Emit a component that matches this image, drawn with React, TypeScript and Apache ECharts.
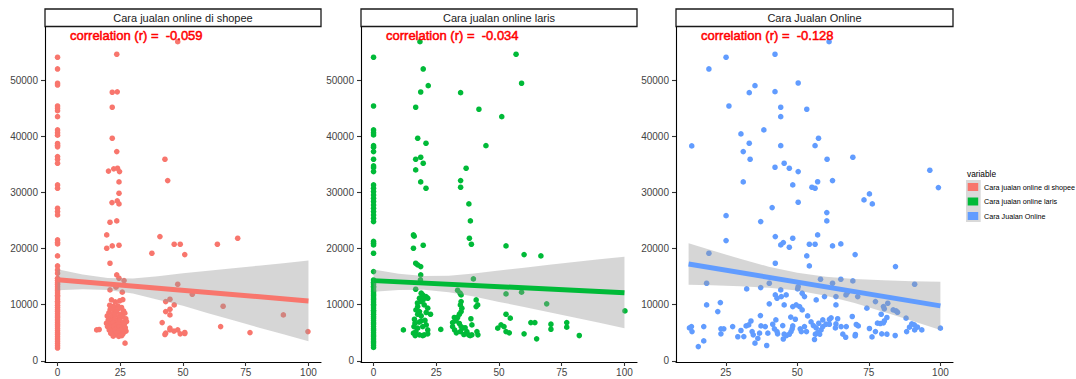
import React, { useEffect, useRef } from 'react';
import * as echarts from 'echarts';

const PANEL_TITLES = ['Cara jualan online di shopee', 'Cara jualan online laris', 'Cara Jualan Online'];
const CORRELATIONS = ['-0.059', '-0.034', '-0.128'];
const COLORS = ['#F8766D', '#00BA38', '#619CFF'];
const LEGEND_TITLE = 'variable';
const Y_TICKS = [0, 10000, 20000, 30000, 40000, 50000];
const X_TICKS_FULL = [0, 25, 50, 75, 100];
const X_TICKS_ONLINE = [25, 50, 75, 100];

// ---- Panel 1: Cara jualan online di shopee ----
const SHOPEE_ZERO_Y = [
  54060, 51980, 49430, 49130, 45390, 44980, 44550, 43490, 41120, 40640, 40190, 38710, 38410, 38110,
  36370, 35900, 35190, 31330, 30740, 27180, 26580, 25990, 21540, 21060, 20830, 18690, 16910, 16200,
  15600, 14700, 14300, 13900, 13600, 13200, 12800, 12500, 12100, 11700, 11400, 11000, 10600, 10300,
  9900, 9500, 9100, 8800, 8400, 8000, 7700, 7300, 6900, 6500, 6200, 5800, 5400, 5000, 4700, 4300,
  3900, 3500, 3100, 2700, 2300,
];
const SHOPEE_POINTS: number[][] = [
  [23.6, 54590], [21.8, 47830], [23.8, 47900], [21.8, 45160], [21.8, 39640], [23.6, 37260],
  [20.3, 33800], [22.4, 34200], [23.9, 34300], [24.7, 33700], [24.5, 31860], [24.5, 29850],
  [21.7, 28180], [23.8, 28480], [24.5, 27950], [20.9, 24690], [23.6, 24920], [19.6, 22430],
  [19.6, 20060], [21.8, 20470], [24.5, 20590], [20.9, 17390], [23.6, 15310], [24.5, 14720],
  [26.5, 14290], [20.9, 12640], [23.3, 13120], [25.8, 12230],
  [21.5, 10860], [23.0, 10500], [24.8, 10700], [26.0, 10900], [20.8, 9900], [22.3, 9700],
  [24.0, 9800], [25.5, 9500], [21.0, 9200], [22.8, 9000], [24.4, 9300], [26.3, 8900],
  [20.5, 8600], [22.0, 8400], [23.5, 8700], [25.0, 8300], [26.8, 8500], [19.8, 8000],
  [21.6, 7800], [23.0, 8100], [24.6, 7700], [25.8, 7900], [27.2, 7500], [20.2, 7300],
  [21.8, 7100], [22.9, 7400], [23.9, 7000], [24.9, 7200], [26.2, 6900], [27.5, 7000],
  [19.5, 6700], [20.9, 6500], [22.2, 6800], [23.3, 6400], [24.3, 6600], [25.4, 6300],
  [26.6, 6500], [19.9, 6100], [21.3, 5900], [22.5, 6200], [23.6, 5800], [24.7, 6000],
  [25.9, 5700], [27.0, 5900], [20.6, 5500], [21.9, 5300], [23.1, 5600], [24.1, 5200],
  [25.2, 5400], [26.4, 5100], [27.3, 5300], [21.2, 4900], [22.7, 4700], [23.8, 5000],
  [24.9, 4600], [26.0, 4800], [22.2, 4400], [24.4, 4350], [25.6, 4500], [26.9, 3150],
  [15.6, 5520], [16.6, 5580],
  [37.6, 19170], [40.8, 22130], [46.5, 20770], [48.9, 20770], [50.7, 18930], [63.7, 20770],
  [71.8, 21840], [42.8, 35900], [43.9, 32100], [47.9, 56840], [47.9, 13650], [53.7, 11870],
  [43.1, 10560], [44.8, 10980], [46.5, 9970], [43.1, 8780], [44.8, 9200], [44.8, 8190],
  [41.7, 6820], [44.8, 5820], [44.8, 5520], [43.1, 4930], [47.9, 5520], [48.9, 4810],
  [50.7, 4870], [50.7, 5050], [66.0, 9730], [65.0, 6110], [76.7, 5040], [90.0, 8190],
  [99.8, 5220], [42.8, 4690], [46.4, 5300],
];
const SHOPEE_BAND_X = [0, 10, 20, 30, 40, 50, 60, 70, 80, 90, 100];
const SHOPEE_BAND_HIGH = [16320, 15370, 14760, 14650, 15080, 15600, 16050, 16500, 16950, 17390, 17860];
const SHOPEE_BAND_LOW = [12580, 12770, 12640, 11990, 10900, 9800, 8500, 7250, 5950, 4730, 3500];
const SHOPEE_FIT_X = [0, 100];
const SHOPEE_FIT_Y = [14450, 10680];

// ---- Panel 2: Cara jualan online laris ----
const LARIS_ZERO_Y = [
  54060, 45390, 41120, 40640, 40230, 38320, 38040, 37260, 35900, 34710, 34410, 33700, 31330, 30740,
  30150, 29550, 28960, 28370, 27770, 27180, 26580, 25990, 25400, 24800, 21270, 20950, 20650, 19170,
  15900, 14400, 14000, 13700, 13300, 13000, 12600, 12300, 11900, 11600, 11200, 10900, 10500, 10100,
  9800, 9400, 9000, 8700, 8300, 7900, 7600, 7200, 6800, 6500, 6100, 5700, 5400, 5000, 4600, 4300,
  3900, 3500, 3200, 2800, 2400,
];
const LARIS_POINTS: number[][] = [
  [18.5, 56840], [19.8, 51980], [21.8, 49010], [18.8, 47880], [16.8, 45160], [17.6, 39640],
  [20.9, 38750], [18.8, 36260], [16.8, 35900], [19.8, 35190], [16.8, 34000], [18.8, 31860],
  [20.9, 30740], [34.7, 47760], [42.0, 44800], [51.1, 43490], [44.8, 38320], [36.9, 34300],
  [34.7, 32100], [34.7, 30920], [56.8, 54590], [59.0, 49430],
  [38.0, 27950], [38.6, 24920], [38.2, 21840], [39.0, 20770], [19.8, 20590], [15.9, 22430],
  [16.2, 22200], [15.9, 20060], [16.8, 17390], [17.6, 17090], [18.8, 16790], [18.8, 15310],
  [18.7, 14420], [39.8, 14600], [16.8, 12760], [52.8, 20470], [60.0, 18930], [66.7, 18690],
  [69.0, 10150], [52.8, 11930], [59.0, 12230], [100.2, 8900],
  [19.0, 12050], [19.6, 11750], [20.9, 11450], [21.6, 11160], [18.3, 11160], [19.0, 10560],
  [17.6, 9670], [16.9, 9080], [18.3, 8780], [20.2, 9970], [21.6, 9380], [17.6, 8310],
  [19.0, 8010], [21.0, 8610], [22.7, 8310], [16.3, 7420], [19.0, 7120], [16.1, 6110],
  [17.6, 5820], [16.9, 5220], [19.6, 6110], [21.0, 6410], [21.6, 5520], [15.9, 4930],
  [18.3, 4630], [20.2, 4630], [21.6, 4810], [16.6, 4510], [19.6, 4510], [16.5, 6700],
  [18.2, 6900], [20.5, 7200], [17.5, 10300], [19.8, 10900], [11.9, 5520], [26.8, 5600],
  [33.5, 12580], [34.5, 12050], [34.9, 11750], [34.9, 10560], [34.6, 9970], [35.2, 9380],
  [34.9, 8780], [34.2, 8310], [33.5, 7720], [32.2, 7720], [32.9, 7120], [31.5, 6820],
  [31.5, 6110], [32.3, 5520], [34.2, 6650], [34.9, 6110], [35.6, 5820], [34.6, 5220],
  [37.2, 5220], [37.9, 4630], [39.2, 4630], [38.5, 4510], [41.2, 5220], [41.6, 4630],
  [39.2, 6410], [40.9, 9670], [41.5, 9970], [40.9, 10860], [36.5, 5900], [33.0, 5000],
  [36.0, 4700], [38.8, 7500],
  [49.5, 5820], [50.8, 6410], [52.0, 6110], [52.8, 5220], [52.8, 8310], [54.5, 7600],
  [54.1, 4990], [60.0, 4810], [65.0, 3920], [62.7, 6820], [64.3, 6820], [70.7, 6530],
  [70.7, 5640], [77.0, 6820], [77.0, 6000], [82.0, 4510],
];
const LARIS_BAND_X = [0, 10, 20, 30, 40, 50, 60, 70, 80, 90, 100];
const LARIS_BAND_HIGH = [16290, 15530, 15100, 15150, 15550, 16100, 16600, 17100, 17600, 18080, 18550];
const LARIS_BAND_LOW = [12290, 12630, 12660, 12230, 11480, 10500, 9600, 8680, 7730, 6770, 5820];
const LARIS_FIT_X = [0, 100];
const LARIS_FIT_Y = [14290, 12150];

// ---- Panel 3: Cara Jualan Online ----
const ONLINE_POINTS: number[][] = [
  [13.1, 38270], [19.1, 51980], [25.1, 54060], [26.1, 45390], [30.3, 40410], [31.1, 37260],
  [33.2, 38750], [33.5, 35900], [33.2, 47760], [35.2, 49010], [38.3, 41120], [31.1, 31860],
  [42.2, 54590], [42.2, 47940], [42.2, 34480], [44.2, 45160], [44.2, 43490], [44.2, 38320],
  [45.4, 35190], [47.2, 34300], [48.4, 31330], [50.3, 49480], [50.3, 33700], [53.3, 44800],
  [55.1, 30920], [56.2, 30740], [56.2, 38320], [57.4, 39640], [60.4, 35900], [61.1, 56840],
  [62.3, 32100], [69.4, 36260], [96.3, 33940], [99.3, 30850],
  [73.3, 28660], [75.2, 29730], [76.2, 27950], [25.1, 25860], [25.1, 21420], [41.2, 27290],
  [50.3, 28250], [37.2, 24800], [60.3, 26400], [60.3, 24920], [57.1, 22430], [42.3, 22130],
  [44.2, 20650], [45.1, 21060], [47.2, 20240], [48.4, 21840], [54.2, 20770], [56.2, 20770],
  [62.3, 20470], [65.2, 20830], [70.2, 18930], [53.3, 18690], [54.2, 16910], [42.3, 17390],
  [19.1, 19170], [84.3, 16790], [57.1, 31900],
  [18.3, 13830], [18.3, 9970], [22.2, 8780], [23.1, 10380], [32.3, 12820], [37.2, 13050],
  [40.2, 13830], [44.2, 12640], [44.4, 11450], [42.3, 11750], [42.9, 11160], [45.4, 9970],
  [46.1, 11750], [50.3, 13230], [50.1, 12820], [51.7, 12050], [52.5, 11450], [58.1, 14540],
  [62.3, 13830], [65.2, 14540], [69.4, 14240], [63.5, 11450], [67.0, 11750], [71.1, 11450],
  [67.5, 12160], [74.3, 9380], [77.3, 10560], [80.1, 9670], [81.6, 10260], [91.0, 13650],
  [56.6, 10860], [59.5, 11450], [40.2, 10150], [37.1, 8070], [48.4, 9670], [49.6, 9970],
  [50.8, 9670], [51.7, 9080], [49.3, 7420], [61.8, 7660], [61.2, 7360], [63.5, 9970],
  [79.3, 8310], [80.4, 9260], [83.5, 9080], [84.5, 8900], [85.0, 8660], [88.0, 7600],
  [81.3, 7720], [80.4, 7120],
  [12.3, 5870], [13.0, 6110], [13.2, 5220], [15.4, 2550], [17.3, 6110], [17.3, 3560],
  [23.3, 5700], [23.3, 4810], [24.3, 5700], [27.4, 6110], [29.2, 4300], [30.3, 5410],
  [31.3, 4330], [32.1, 6230], [33.0, 6400], [33.8, 7100], [34.2, 5220], [34.6, 4630],
  [35.2, 3150], [36.2, 4000], [36.8, 4930], [37.3, 6230], [39.3, 2730], [38.8, 6110],
  [39.7, 4930], [41.4, 6520], [42.0, 5700], [42.5, 7300], [42.9, 5220], [43.1, 4810],
  [44.9, 6290], [45.1, 3900], [46.2, 4510], [45.4, 4750], [47.2, 4750], [47.8, 5220],
  [48.2, 5700], [47.7, 7800], [48.4, 6230], [51.0, 5700], [51.4, 5220], [52.5, 6110],
  [53.6, 8000], [54.8, 6940], [55.6, 6290], [56.0, 3800], [56.3, 4750], [53.2, 5220],
  [56.6, 5870], [57.2, 5050], [57.8, 4750], [58.3, 5520], [58.9, 6110], [57.5, 6700],
  [58.9, 7300], [60.0, 6530], [61.2, 6530], [63.5, 6580], [64.1, 7500], [63.3, 5870],
  [65.9, 4750], [66.9, 4200], [67.1, 6110], [65.3, 6110], [69.2, 7900], [70.3, 4690],
  [70.6, 6470], [71.3, 6230], [70.2, 4450], [75.2, 5760], [76.1, 4270], [77.3, 5220],
  [78.0, 6710], [79.0, 6650], [80.1, 6770], [79.5, 4810], [81.3, 4750], [84.2, 4510],
  [88.2, 5220], [89.2, 6000], [90.0, 6590], [90.9, 6410], [91.0, 5520], [92.0, 6000],
  [93.5, 5520], [100.0, 5820],
];
const ONLINE_BAND_X = [12, 20, 30, 40, 50, 60, 70, 80, 90, 100];
const ONLINE_BAND_HIGH = [20960, 19690, 18170, 16770, 15700, 15000, 14600, 14350, 14200, 14100];
const ONLINE_BAND_LOW = [13560, 13470, 13290, 13000, 12550, 11600, 10300, 8750, 7150, 5500];
const ONLINE_FIT_X = [12, 100];
const ONLINE_FIT_Y = [17260, 9790];

const FONT = "'Liberation Sans', Arial, Helvetica, sans-serif";

export default function App() {
  const ref = useRef<HTMLDivElement>(null);

  useEffect(() => {
    document.body.style.margin = '0';
    if (!ref.current) return;
    const chart = echarts.init(ref.current, undefined, { renderer: 'svg' });

    const panels = [
      {
        points: [...SHOPEE_ZERO_Y.map((y) => [0, y]), ...SHOPEE_POINTS],
        bandX: SHOPEE_BAND_X, bandHigh: SHOPEE_BAND_HIGH, bandLow: SHOPEE_BAND_LOW,
        fitX: SHOPEE_FIT_X, fitY: SHOPEE_FIT_Y,
        xMin: -5, xMax: 105, xTicks: X_TICKS_FULL, left: 45, width: 276,
      },
      {
        points: [...LARIS_ZERO_Y.map((y) => [0, y]), ...LARIS_POINTS],
        bandX: LARIS_BAND_X, bandHigh: LARIS_BAND_HIGH, bandLow: LARIS_BAND_LOW,
        fitX: LARIS_FIT_X, fitY: LARIS_FIT_Y,
        xMin: -5, xMax: 105, xTicks: X_TICKS_FULL, left: 361, width: 276,
      },
      {
        points: ONLINE_POINTS,
        bandX: ONLINE_BAND_X, bandHigh: ONLINE_BAND_HIGH, bandLow: ONLINE_BAND_LOW,
        fitX: ONLINE_FIT_X, fitY: ONLINE_FIT_Y,
        xMin: 7.6, xMax: 104.4, xTicks: X_TICKS_ONLINE, left: 676, width: 277,
      },
    ];

    const TOP = 27;
    const HEIGHT = 335;

    const grid = panels.map((p) => ({ left: p.left, top: TOP, width: p.width, height: HEIGHT, containLabel: false }));
    const axisLine = { show: true, onZero: false, lineStyle: { color: '#000', width: 1.1 } };
    const fmt = (v: number) => String(v);
    const xAxis = panels.map((p, i) => ({
      type: 'value', gridIndex: i, min: p.xMin, max: p.xMax,
      axisLine, splitLine: { show: false },
      axisTick: { show: true, length: 4, lineStyle: { color: '#333', width: 1.1 }, customValues: p.xTicks },
      axisLabel: { customValues: p.xTicks, formatter: fmt, color: '#444', fontSize: 10, margin: 5, fontFamily: FONT },
    }));
    const yAxis = panels.map((p, i) => ({
      type: 'value', gridIndex: i, min: -200, max: 59450,
      axisLine, splitLine: { show: false },
      axisTick: { show: true, length: 4, lineStyle: { color: '#333', width: 1.1 }, customValues: Y_TICKS },
      axisLabel: { customValues: Y_TICKS, formatter: fmt, color: '#444', fontSize: 10, margin: 7, fontFamily: FONT },
    }));

    const series: any[] = [];
    panels.forEach((p, i) => {
      series.push({
        type: 'scatter', xAxisIndex: i, yAxisIndex: i, data: p.points, symbolSize: 5.6,
        itemStyle: { color: COLORS[i], opacity: 1 }, z: 2, silent: true,
      });
      series.push({
        type: 'custom', xAxisIndex: i, yAxisIndex: i, data: [[p.bandX[0], p.bandHigh[0]]], z: 3, silent: true,
        renderItem: (_params: any, api: any) => {
          const up = p.bandX.map((x, k) => api.coord([x, p.bandHigh[k]]));
          const lo = p.bandX.map((x, k) => api.coord([x, p.bandLow[k]])).reverse();
          return { type: 'polygon', shape: { points: [...up, ...lo] }, style: { fill: 'rgba(153,153,153,0.4)' } };
        },
      });
      series.push({
        type: 'line', xAxisIndex: i, yAxisIndex: i, data: p.fitX.map((x, k) => [x, p.fitY[k]]),
        showSymbol: false, lineStyle: { color: COLORS[i], width: 5 }, z: 4, silent: true,
      });
    });

    const graphic: any[] = [];
    panels.forEach((p, i) => {
      graphic.push({
        type: 'rect', shape: { x: p.left, y: 9, width: p.width, height: 17.5 },
        style: { fill: '#fff', stroke: '#1a1a1a', lineWidth: 1.3 },
      });
      graphic.push({
        type: 'text', x: p.left + p.width / 2, y: 18,
        style: { text: PANEL_TITLES[i], fill: '#1a1a1a', fontSize: 11, fontFamily: FONT, align: 'center', verticalAlign: 'middle' },
      });
      graphic.push({
        type: 'text', x: p.left + 25, y: 35, z: 10,
        style: {
          text: 'correlation (r) =  ' + CORRELATIONS[i], fill: '#ff0000', fontSize: 13, fontFamily: FONT,
          align: 'left', verticalAlign: 'middle', stroke: '#ff0000', lineWidth: 0.5,
        },
      });
    });
    // legend
    graphic.push({
      type: 'text', x: 967, y: 174,
      style: { text: LEGEND_TITLE, fill: '#000', fontSize: 8.3, fontFamily: FONT, align: 'left', verticalAlign: 'middle' },
    });
    graphic.push({ type: 'rect', shape: { x: 966, y: 180, width: 14.7, height: 42 }, style: { fill: '#D9D9D9' } });
    const keyY = [187, 201.5, 216];
    PANEL_TITLES.forEach((t, i) => {
      graphic.push({ type: 'rect', shape: { x: 967.7, y: keyY[i] - 4, width: 10.5, height: 8 }, style: { fill: COLORS[i] } });
      graphic.push({
        type: 'text', x: 984, y: keyY[i],
        style: { text: t, fill: '#000', fontSize: 7.2, fontFamily: FONT, align: 'left', verticalAlign: 'middle' },
      });
    });

    chart.setOption({
      animation: false,
      backgroundColor: '#fff',
      grid, xAxis, yAxis, series, graphic,
    });

    return () => chart.dispose();
  }, []);

  return <div ref={ref} style={{ width: 1076, height: 379 }} />;
}
